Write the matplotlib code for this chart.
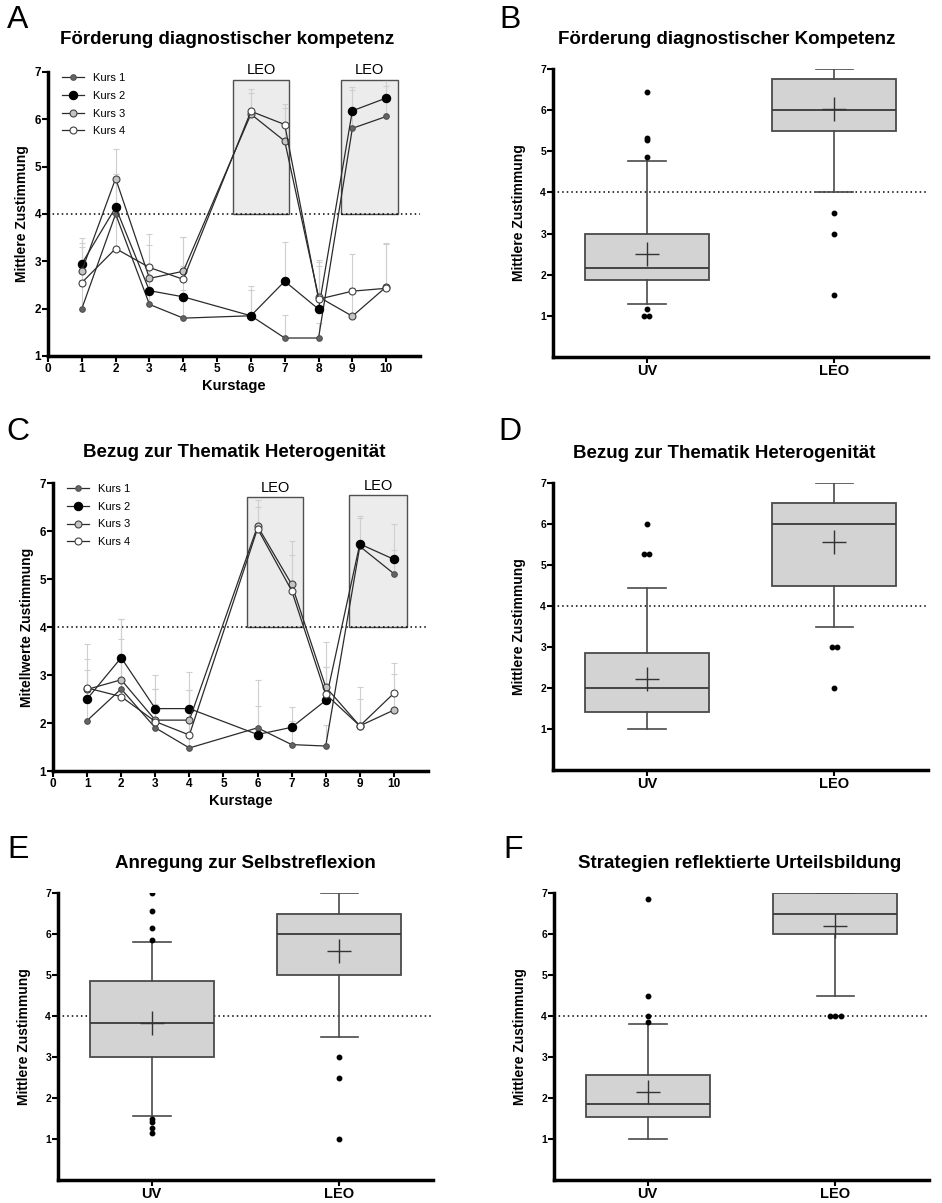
import numpy as np
import matplotlib
matplotlib.use('Agg')
import matplotlib.pyplot as plt
from matplotlib.patches import Rectangle
from matplotlib.lines import Line2D

plt.rcParams['font.family'] = ['Liberation Sans', 'DejaVu Sans']

W, H = 942, 1203

# course days (no session on day 5)
days = [1, 2, 3, 4, 6, 7, 8, 9, 10]
kurse = ['Kurs 1', 'Kurs 2', 'Kurs 3', 'Kurs 4']

# panel A: Förderung diagnostischer Kompetenz, means and upward SD
a_mean = {
    'Kurs 1': [2.00, 4.00, 2.09, 1.80, 1.85, 1.38, 1.38, 5.81, 6.06],
    'Kurs 2': [2.95, 4.14, 2.38, 2.25, 1.85, 2.58, 1.99, 6.18, 6.45],
    'Kurs 3': [2.80, 4.75, 2.64, 2.79, 6.11, 5.54, 2.25, 1.84, 2.46],
    'Kurs 4': [2.55, 3.27, 2.87, 2.62, 6.17, 5.89, 2.20, 2.37, 2.43],
}
a_sd = {
    'Kurs 1': [0.60, 0.70, 0.50, 0.60, 0.55, 0.48, 0.32, 0.80, 0.65],
    'Kurs 2': [0.55, 0.70, 0.55, 0.65, 0.62, 0.83, 1.00, 0.50, 0.35],
    'Kurs 3': [0.58, 0.63, 0.70, 0.73, 0.45, 0.70, 0.77, 0.60, 0.90],
    'Kurs 4': [0.76, 0.80, 0.70, 0.90, 0.48, 0.43, 0.70, 0.79, 0.95],
}

# panel C: Bezug zur Thematik Heterogenität
c_mean = {
    'Kurs 1': [2.05, 2.71, 1.90, 1.48, 1.90, 1.55, 1.52, 5.68, 5.11],
    'Kurs 2': [2.50, 3.36, 2.30, 2.30, 1.76, 1.91, 2.47, 5.73, 5.41],
    'Kurs 3': [2.70, 2.90, 2.06, 2.06, 6.10, 4.89, 2.75, 1.94, 2.27],
    'Kurs 4': [2.73, 2.55, 2.03, 1.75, 6.05, 4.76, 2.60, 1.94, 2.62],
}
c_sd = {
    'Kurs 1': [0.60, 0.70, 0.50, 0.60, 0.99, 0.50, 0.43, 0.60, 0.50],
    'Kurs 2': [0.60, 0.81, 0.69, 0.76, 0.60, 0.42, 0.70, 0.59, 0.73],
    'Kurs 3': [0.94, 1.27, 0.64, 0.62, 0.54, 0.90, 0.94, 0.81, 0.76],
    'Kurs 4': [0.60, 1.19, 0.67, 0.93, 0.45, 0.74, 0.57, 0.56, 0.62],
}

# LEO sessions (x from, x to, top)
a_leo = [(5.48, 7.14, 6.84), (8.67, 10.35, 6.84)]
c_leo = [(5.68, 7.34, 6.71), (8.69, 10.39, 6.74)]

# box plot summaries: UV and LEO groups
groups = ['UV', 'LEO']
b_stats = [
    dict(whislo=1.28, q1=1.87, med=2.17, q3=3.00, whishi=4.77, mean=2.51,
         fliers=[6.43, 5.33, 5.28, 4.86, 1.17, 1.0, 1.0]),
    dict(whislo=4.0, q1=5.5, med=6.0, q3=6.75, whishi=7.0, mean=6.03,
         fliers=[3.5, 3.0, 1.5]),
]
d_stats = [
    dict(whislo=1.0, q1=1.42, med=2.0, q3=2.86, whishi=4.44, mean=2.23,
         fliers=[6.0, 5.28, 5.28]),
    dict(whislo=3.5, q1=4.5, med=6.0, q3=6.5, whishi=7.0, mean=5.56,
         fliers=[3.0, 3.0, 2.0]),
]
e_stats = [
    dict(whislo=1.55, q1=3.0, med=3.83, q3=4.85, whishi=5.81, mean=3.84,
         fliers=[7.0, 6.57, 6.14, 5.86, 1.5, 1.42, 1.28, 1.14]),
    dict(whislo=3.5, q1=5.0, med=6.0, q3=6.5, whishi=7.0, mean=5.58,
         fliers=[3.0, 2.5, 1.0]),
]
f_stats = [
    dict(whislo=1.0, q1=1.54, med=1.85, q3=2.56, whishi=3.80, mean=2.14,
         fliers=[6.85, 4.5, 4.0, 3.86]),
    dict(whislo=4.5, q1=6.0, med=6.5, q3=7.0, whishi=7.0, mean=6.2,
         fliers=[4.0, 4.0, 4.0]),
]

styles = {
    'Kurs 1': dict(marker='o', ms=4.0, mfc='#646464', mec='#505050', mew=0.8),
    'Kurs 2': dict(marker='o', ms=6.0, mfc='black', mec='black', mew=0.8),
    'Kurs 3': dict(marker='o', ms=5.0, mfc='#c4c4c4', mec='#404040', mew=0.8),
    'Kurs 4': dict(marker='o', ms=5.0, mfc='white', mec='#404040', mew=0.8),
}

fig = plt.figure(figsize=(W / 100, H / 100), dpi=100)


def px_axes(l, t, r, b):
    return fig.add_axes([l / W, 1 - b / H, (r - l) / W, (b - t) / H])


def style_spines(ax):
    for s in ['top', 'right']:
        ax.spines[s].set_visible(False)
    for s in ['left', 'bottom']:
        ax.spines[s].set_linewidth(2.5)
    ax.tick_params(width=1.5, length=4, direction='out')


def line_panel(ax, means, sds, leo, ylabel):
    style_spines(ax)
    for x0, x1, top in leo:
        ax.add_patch(Rectangle((x0, 4.0), x1 - x0, top - 4.0, facecolor='#ececec',
                               edgecolor='#505050', lw=1.0, zorder=0.5))
        ax.text((x0 + x1) / 2, top + 0.05, 'LEO', ha='center', va='bottom',
                fontsize=10.5, clip_on=False)
    ax.axhline(4, color='black', ls=(0, (1, 2)), lw=1.1, zorder=1)
    for k in kurse:
        m = np.array(means[k])
        s = np.array(sds[k])
        ax.errorbar(days, m, yerr=[np.zeros_like(s), s], fmt='none',
                    ecolor='#cfcfcf', elinewidth=0.8, capsize=2, capthick=0.8, zorder=1.5)
    for k in kurse:
        ax.plot(days, means[k], color='#2b2b2b', lw=0.9, zorder=3, clip_on=False,
                **styles[k])
    ax.set_xlim(0, 11)
    ax.set_ylim(1, 7)
    ax.set_xticks(range(0, 11))
    ax.set_yticks(range(1, 8))
    for lab in ax.get_xticklabels() + ax.get_yticklabels():
        lab.set_fontweight('bold')
        lab.set_fontsize(8.5)
    ax.tick_params(axis='x', pad=1)
    ax.tick_params(axis='y', pad=1)
    ax.set_xlabel('Kurstage', fontsize=10.5, fontweight='bold', labelpad=3)
    ax.set_ylabel(ylabel, fontsize=10, fontweight='bold', labelpad=4)
    handles = [Line2D([0], [0], color='#2b2b2b', lw=0.9, **styles[k]) for k in kurse]
    ax.legend(handles, kurse, loc='upper left', bbox_to_anchor=(0.02, 1.02), frameon=False,
              fontsize=8, handlelength=2.0, labelspacing=0.7, borderaxespad=0.2)


def box_panel(ax, stats):
    style_spines(ax)
    bxp_stats = []
    for st in stats:
        d = dict(st)
        d['fliers'] = []
        bxp_stats.append(d)
    ax.axhline(4, color='black', ls=(0, (1, 2)), lw=1.1, zorder=1)
    ax.bxp(bxp_stats, positions=[0, 1], widths=0.66, capwidths=0.2, showfliers=False,
           showmeans=False, patch_artist=True,
           boxprops=dict(facecolor='#d3d3d3', edgecolor='#4a4a4a', lw=1.3),
           medianprops=dict(color='#3a3a3a', lw=1.3),
           whiskerprops=dict(color='#4a4a4a', lw=1.2),
           capprops=dict(color='#4a4a4a', lw=1.2))
    for pos, st in enumerate(stats):
        ax.plot(pos, st['mean'], marker='+', ms=17, mew=1.0, color='#333333', zorder=4)
        fl = st['fliers']
        # spread tied outliers sideways
        xs = []
        for i, v in enumerate(fl):
            n_same = fl.count(v)
            if n_same > 1:
                idx = [j for j, w in enumerate(fl) if w == v].index(i)
                xs.append(pos + (idx - (n_same - 1) / 2) * 0.028)
            else:
                xs.append(pos)
        ax.plot(xs, fl, 'o', color='black', ms=3.2, ls='none', zorder=5)
    ax.set_xlim(-0.5, 1.5)
    ax.set_ylim(0, 7)
    ax.set_yticks(range(1, 8))
    ax.set_xticks([0, 1])
    ax.set_xticklabels(groups, fontsize=10.5, fontweight='bold')
    for lab in ax.get_yticklabels():
        lab.set_fontweight('bold')
        lab.set_fontsize(7.5)
    ax.tick_params(axis='y', pad=1)
    ax.tick_params(axis='x', pad=1)
    ax.set_ylabel('Mittlere Zustimmung', fontsize=10, fontweight='bold', labelpad=10)


ax_a = px_axes(48, 72, 420, 356)
line_panel(ax_a, a_mean, a_sd, a_leo, 'Mittlere Zustimmung')
ax_c = px_axes(53, 483, 428, 771)
line_panel(ax_c, c_mean, c_sd, c_leo, 'Mitellwerte Zustimmung')

ax_b = px_axes(553, 69, 928, 357)
box_panel(ax_b, b_stats)
ax_d = px_axes(553, 483, 928, 770)
box_panel(ax_d, d_stats)
ax_e = px_axes(58, 893, 433, 1180)
box_panel(ax_e, e_stats)
ax_f = px_axes(554, 893, 929, 1180)
box_panel(ax_f, f_stats)

titles = [
    (227, 40, 'Förderung diagnostischer kompetenz'),
    (727, 40, 'Förderung diagnostischer Kompetenz'),
    (234, 452, 'Bezug zur Thematik Heterogenität'),
    (724, 453, 'Bezug zur Thematik Heterogenität'),
    (245, 863, 'Anregung zur Selbstreflexion'),
    (740, 863, 'Strategien reflektierte Urteilsbildung'),
]
for x, y, t in titles:
    fig.text(x / W, 1 - y / H, t, ha='center', va='center', fontsize=13.5, fontweight='bold')

letters = [(18, 20, 'A'), (510, 20, 'B'), (18, 432, 'C'), (510, 432, 'D'),
           (18, 850, 'E'), (513, 850, 'F')]
for x, y, t in letters:
    fig.text(x / W, 1 - y / H, t, ha='center', va='center', fontsize=23)

fig.savefig('out.png', dpi=100)
